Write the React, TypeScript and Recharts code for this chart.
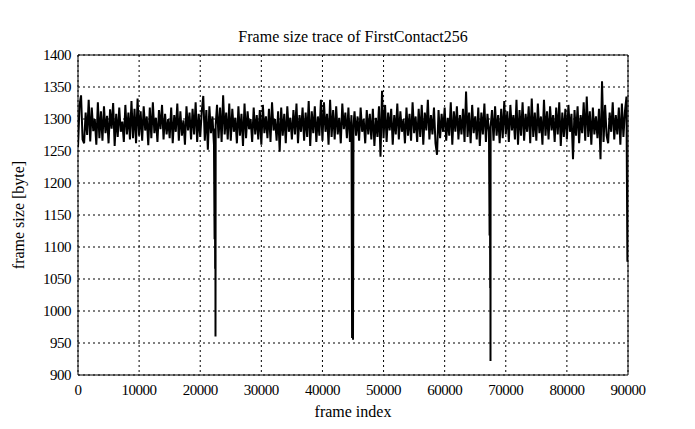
import React from 'react';
import { LineChart, Line, XAxis, YAxis, CartesianGrid, ReferenceArea } from 'recharts';

const FRAME_STEP = 250;

// frame size [byte] sampled every FRAME_STEP frames, 0 .. 90000
const frameSizes = [
  1256, 1322, 1337, 1268, 1262, 1310, 1275, 1330, 1265, 1318, 1281, 1300, 1260, 1326, 1270, 1312, 1266, 1320, 1278, 1305,
  1262, 1315, 1285, 1325, 1258, 1308, 1272, 1318, 1280, 1296, 1264, 1322, 1276, 1310, 1268, 1328, 1270, 1316, 1262, 1332,
  1274, 1312, 1266, 1320, 1282, 1304, 1259, 1318, 1270, 1326, 1278, 1302, 1264, 1314, 1284, 1322, 1268, 1308, 1276, 1300,
  1270, 1318, 1262, 1306, 1280, 1324, 1266, 1312, 1274, 1298, 1260, 1320, 1282, 1310, 1268, 1316, 1276, 1326, 1264, 1308,
  1272, 1312, 1336, 1266, 1314, 1252, 1320, 1278, 1304, 1260, 960, 1322, 1270, 1318, 1264, 1337, 1276, 1310, 1268, 1324,
  1266, 1316, 1280, 1302, 1262, 1320, 1274, 1308, 1258, 1324, 1270, 1312, 1284, 1300, 1264, 1318, 1276, 1306, 1268, 1314,
  1260, 1322, 1278, 1304, 1270, 1316, 1264, 1326, 1282, 1300, 1266, 1312, 1249, 1318, 1274, 1308, 1262, 1320, 1280, 1302,
  1268, 1314, 1276, 1324, 1262, 1306, 1280, 1318, 1266, 1310, 1272, 1328, 1258, 1312, 1278, 1320, 1264, 1304, 1274, 1330,
  1266, 1326, 1280, 1308, 1260, 1330, 1272, 1314, 1268, 1320, 1276, 1302, 1262, 1324, 1284, 1310, 1270, 1318, 1264, 1306,
  955, 1312, 1274, 1304, 1266, 1318, 1280, 1300, 1262, 1314, 1276, 1308, 1268, 1316, 1258, 1302, 1272, 1320, 1241, 1344,
  1270, 1322, 1264, 1310, 1282, 1316, 1260, 1306, 1276, 1324, 1268, 1312, 1280, 1300, 1262, 1318, 1274, 1308, 1266, 1326,
  1278, 1304, 1264, 1316, 1272, 1322, 1260, 1310, 1282, 1330, 1268, 1306, 1276, 1318, 1262, 1244, 1314, 1270, 1308, 1280,
  1318, 1266, 1302, 1274, 1326, 1260, 1312, 1280, 1320, 1268, 1306, 1276, 1316, 1264, 1343, 1272, 1310, 1262, 1322, 1278,
  1304, 1268, 1318, 1258, 1310, 1276, 1324, 1264, 1308, 1280, 922, 1314, 1266, 1320, 1274, 1306, 1262, 1316, 1270, 1328,
  1276, 1312, 1264, 1322, 1282, 1306, 1268, 1330, 1260, 1314, 1274, 1326, 1266, 1308, 1280, 1320, 1262, 1332, 1272, 1310,
  1266, 1324, 1278, 1304, 1260, 1330, 1274, 1312, 1268, 1320, 1282, 1306, 1264, 1318, 1276, 1326, 1258, 1310, 1272, 1316,
  1268, 1322, 1280, 1308, 1237, 1314, 1274, 1320, 1262, 1306, 1278, 1326, 1266, 1335, 1272, 1312, 1260, 1318, 1276, 1304,
  1270, 1316, 1237, 1359, 1264, 1322, 1274, 1262, 1310, 1280, 1326, 1268, 1306, 1276, 1318, 1260, 1324, 1272, 1312, 1335,
  1206,
];

// extra frames around the deep drops
const spikeFrames = [22350, 22400, 22440, 22470, 22530, 44850, 44920, 45080, 67350, 67400, 67450, 67480, 67520, 89900];
const spikeSizes = [1112, 1285, 1066, 1280, 1290, 958, 1288, 1290, 1118, 1286, 1036, 1282, 1288, 1077];

const xTicks = [0, 10000, 20000, 30000, 40000, 50000, 60000, 70000, 80000, 90000];
const yTicks = [900, 950, 1000, 1050, 1100, 1150, 1200, 1250, 1300, 1350, 1400];

const data = frameSizes
  .map((v, i) => ({ frame: i * FRAME_STEP, size: v }))
  .concat(spikeFrames.map((f, i) => ({ frame: f, size: spikeSizes[i] })))
  .sort((a, b) => a.frame - b.frame);

const FONT = "'Liberation Serif', 'Times New Roman', serif";
const tickStyle = { fill: '#000', fontSize: 15, fontFamily: FONT, letterSpacing: -0.5 };

export default function App() {
  return (
    <div style={{ position: 'absolute', left: 0, top: 0, width: 695, height: 429, background: '#fff' }}>
      <LineChart width={695} height={429} data={data} margin={{ top: 55, right: 67, bottom: 0, left: 0 }}>
        <CartesianGrid stroke="#000" strokeDasharray="2 3" strokeWidth={1} />
        <XAxis
          dataKey="frame"
          type="number"
          domain={[0, 90000]}
          ticks={xTicks}
          interval={0}
          tickSize={0}
          tickMargin={9}
          axisLine={false}
          height={54}
          tick={tickStyle}
          allowDataOverflow
        />
        <YAxis
          type="number"
          domain={[900, 1400]}
          ticks={yTicks}
          interval={0}
          tickSize={0}
          tickMargin={7}
          axisLine={false}
          width={78}
          tick={tickStyle}
          allowDataOverflow
        />
        <Line
          type="linear"
          dataKey="size"
          stroke="#000"
          strokeWidth={2}
          dot={false}
          isAnimationActive={false}
        />
        <ReferenceArea x1={0} x2={90000} y1={900} y2={1400} fill="none" fillOpacity={0} stroke="#000" strokeWidth={1} ifOverflow="visible" />
        <text x={353} y={42} textAnchor="middle" fontSize={16} fontFamily={FONT} fill="#000">
          Frame size trace of FirstContact256
        </text>
        <text x={353} y={417} textAnchor="middle" fontSize={16} fontFamily={FONT} fill="#000">
          frame index
        </text>
        <text x={24} y={215} textAnchor="middle" fontSize={16} fontFamily={FONT} fill="#000" transform="rotate(-90 24 215)">
          frame size [byte]
        </text>
      </LineChart>
    </div>
  );
}
